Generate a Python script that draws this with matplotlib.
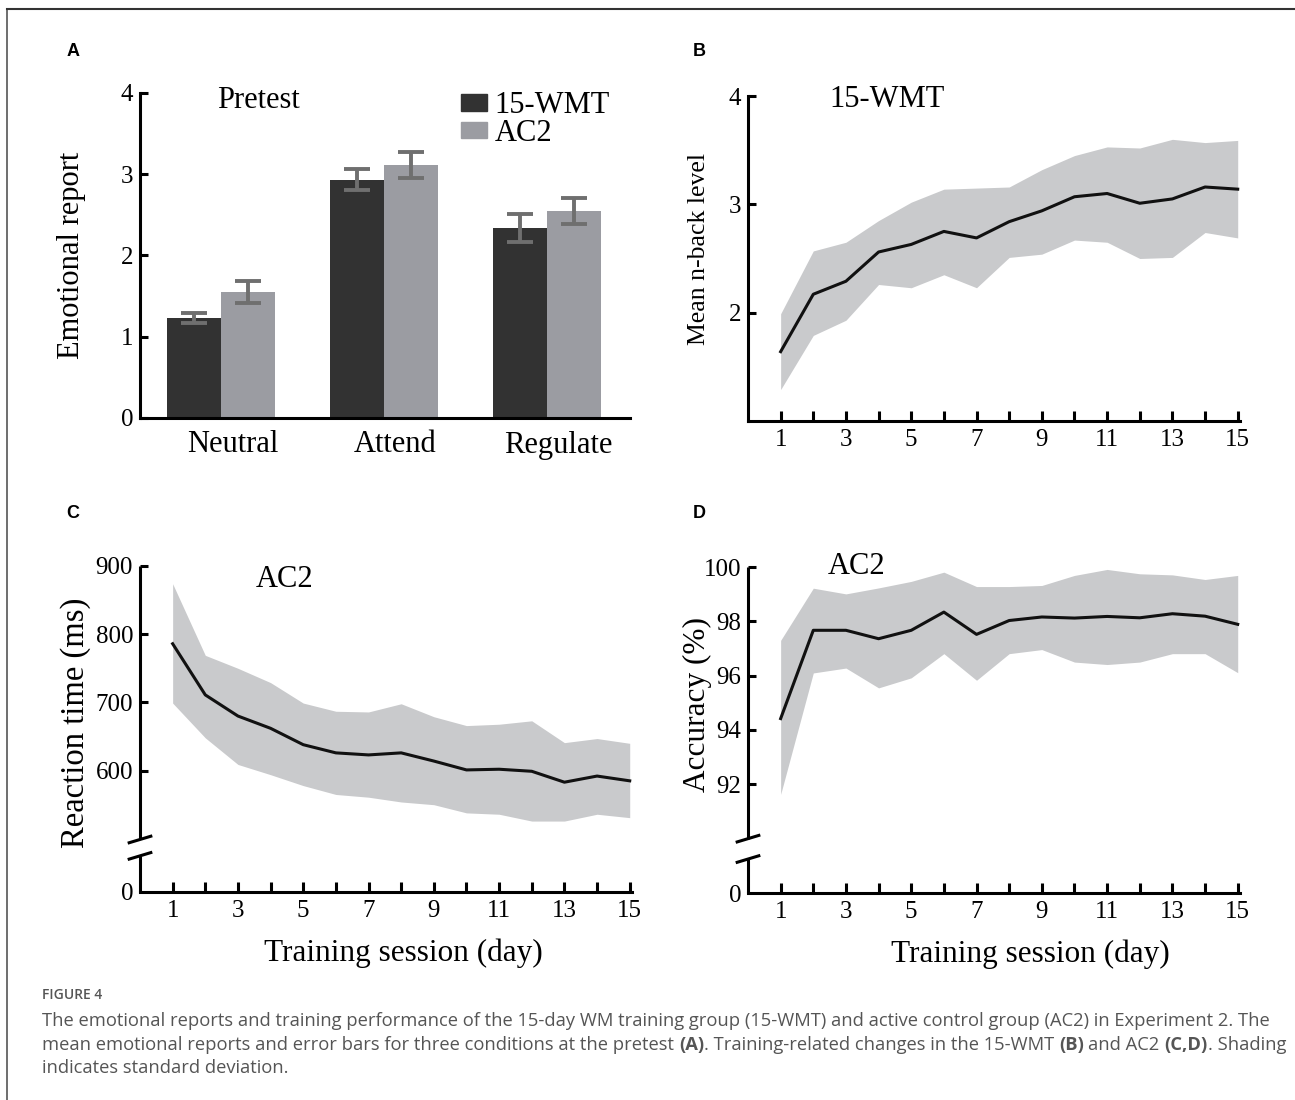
import matplotlib
matplotlib.use("Agg")
import matplotlib.pyplot as plt
from matplotlib.patches import Patch

# ---- data ----
conditions = ["Neutral", "Attend", "Regulate"]
wmt_pre = [1.23, 2.93, 2.34]
wmt_pre_err = [0.06, 0.13, 0.17]
ac2_pre = [1.55, 3.11, 2.55]
ac2_pre_err = [0.13, 0.16, 0.16]

sessions = list(range(1, 16))
session_labels = [str(s) if s % 2 == 1 else "" for s in sessions]

nback_mean = [1.64, 2.17, 2.29, 2.56, 2.63, 2.75, 2.69, 2.84, 2.94, 3.07, 3.10, 3.01, 3.05, 3.16, 3.14]
nback_upper = [1.99, 2.57, 2.65, 2.85, 3.02, 3.14, 3.15, 3.16, 3.32, 3.45, 3.53, 3.52, 3.60, 3.57, 3.59]
nback_lower = [1.29, 1.79, 1.93, 2.26, 2.23, 2.35, 2.23, 2.51, 2.54, 2.67, 2.65, 2.50, 2.51, 2.74, 2.69]

rt_mean = [786, 711, 680, 662, 638, 626, 623, 626, 614, 601, 602, 599, 583, 592, 585]
rt_upper = [874, 769, 750, 729, 699, 687, 686, 698, 679, 666, 668, 673, 641, 647, 640]
rt_lower = [699, 648, 609, 594, 578, 565, 561, 554, 550, 538, 536, 526, 526, 536, 531]

acc_mean = [94.42, 97.67, 97.67, 97.36, 97.67, 98.34, 97.52, 98.03, 98.16, 98.12, 98.18, 98.13, 98.28, 98.19, 97.89]
acc_upper = [97.30, 99.22, 99.01, 99.23, 99.47, 99.81, 99.28, 99.28, 99.32, 99.69, 99.91, 99.75, 99.71, 99.54, 99.69]
acc_lower = [91.63, 96.10, 96.28, 95.55, 95.92, 96.81, 95.83, 96.81, 96.96, 96.50, 96.41, 96.50, 96.81, 96.81, 96.11]

# ---- style ----
DARK = "#323232"
LIGHT = "#9b9ca2"
ERR = "#6f6f6f"
SHADE = "#c9cacc"
LW = 2.2
W, H = 1295, 1100

plt.rcParams["font.family"] = ["Liberation Serif", "DejaVu Serif"]
plt.rcParams["axes.linewidth"] = LW
plt.rcParams["xtick.major.width"] = LW
plt.rcParams["ytick.major.width"] = LW
plt.rcParams["xtick.labelsize"] = 18
plt.rcParams["ytick.labelsize"] = 18

fig = plt.figure(figsize=(W / 100, H / 100), dpi=100)


def px_axes(left, top, right, bottom):
    return fig.add_axes([left / W, 1 - bottom / H, (right - left) / W, (bottom - top) / H])


def clean(ax):
    ax.spines["top"].set_visible(False)
    ax.spines["right"].set_visible(False)


def session_axis(ax):
    ax.set_xlim(0, 15.07)
    ax.set_xticks(sessions)
    ax.set_xticklabels(session_labels)
    ax.tick_params(axis="x", direction="in", length=7, pad=6)
    ax.tick_params(axis="y", direction="in", length=6, pad=5)


def broken_spine(ax, lo, hi):
    y0, y1 = ax.get_ylim()
    ax.spines["left"].set_visible(False)
    tr = ax.get_yaxis_transform()
    ax.plot([0, 0], [y0, lo], transform=tr, color="k", lw=LW, clip_on=False, solid_capstyle="butt")
    ax.plot([0, 0], [hi, y1], transform=tr, color="k", lw=LW, clip_on=False, solid_capstyle="butt")
    for v in (lo, hi):
        f = (v - y0) / (y1 - y0)
        ax.plot([-0.022, 0.022], [f - 0.01, f + 0.01], transform=ax.transAxes,
                color="k", lw=LW, clip_on=False)


# ---- panel A ----
axA = px_axes(140, 93, 630, 418)
clean(axA)
pos = list(range(len(conditions)))
bw = 0.33
axA.bar([p - bw / 2 for p in pos], wmt_pre, bw, color=DARK, label="15-WMT")
axA.bar([p + bw / 2 for p in pos], ac2_pre, bw, color=LIGHT, label="AC2")
axA.errorbar([p - bw / 2 for p in pos], wmt_pre, yerr=wmt_pre_err, fmt="none",
             ecolor=ERR, elinewidth=2.8, capsize=9.5, capthick=2.8)
axA.errorbar([p + bw / 2 for p in pos], ac2_pre, yerr=ac2_pre_err, fmt="none",
             ecolor=ERR, elinewidth=2.8, capsize=9.5, capthick=2.8)
axA.set_xlim(-0.497, 2.509)
axA.set_ylim(0, 4)
axA.set_yticks([0, 1, 2, 3, 4])
# category labels sit slightly right of the bar-pair centres in the original
axA.set_xticks([p + 0.07 for p in pos])
axA.set_xticklabels(conditions, fontsize=22)
axA.tick_params(axis="x", length=0, pad=9)
axA.tick_params(axis="y", direction="in", length=6, pad=5)
axA.set_ylabel("Emotional report", fontsize=22)
axA.yaxis.set_label_coords(-0.11, 0.5)
axA.text(0.241, 0.978, "Pretest", transform=axA.transAxes, fontsize=22, ha="center", va="center")
axA.legend(handles=[Patch(color=DARK), Patch(color=LIGHT)], labels=["15-WMT", "AC2"],
           loc="upper left", bbox_to_anchor=(0.655, 1.005), fontsize=22, frameon=False,
           handlelength=0.85, handleheight=0.45, handletextpad=0.25, labelspacing=-0.05,
           borderpad=0, borderaxespad=0)

# ---- panel B ----
axB = px_axes(748, 96, 1240, 421)
clean(axB)
axB.fill_between(sessions, nback_lower, nback_upper, color=SHADE, lw=0)
axB.plot(sessions, nback_mean, color="#111111", lw=2.2)
session_axis(axB)
axB.set_ylim(1, 4)
axB.set_yticks([2, 3, 4])
axB.set_ylabel("Mean n-back level", fontsize=18.5)
axB.yaxis.set_label_coords(-0.077, 0.53)
axB.text(0.283, 0.988, "15-WMT", transform=axB.transAxes, fontsize=22, ha="center", va="center")

# ---- panel C ----
axC = px_axes(140, 566, 632, 892)
clean(axC)
axC.fill_between(sessions, rt_lower, rt_upper, color=SHADE, lw=0)
axC.plot(sessions, rt_mean, color="#111111", lw=2.2)
session_axis(axC)
axC.set_ylim(422, 900)
axC.set_yticks([422, 600, 700, 800, 900])
axC.set_yticklabels(["0", "600", "700", "800", "900"])
axC.yaxis.get_major_ticks()[0].tick1line.set_visible(False)
broken_spine(axC, 475, 499)
axC.set_ylabel("Reaction time (ms)", fontsize=23.5)
axC.yaxis.set_label_coords(-0.10, 0.52)
axC.set_xlabel("Training session (day)", fontsize=22.5)
axC.xaxis.set_label_coords(0.535, -0.143)
axC.text(0.293, 0.96, "AC2", transform=axC.transAxes, fontsize=22, ha="center", va="center")

# ---- panel D ----
axD = px_axes(748, 567, 1240, 893)
clean(axD)
axD.fill_between(sessions, acc_lower, acc_upper, color=SHADE, lw=0)
axD.plot(sessions, acc_mean, color="#111111", lw=2.2)
session_axis(axD)
axD.set_ylim(88, 100)
axD.set_yticks([88, 92, 94, 96, 98, 100])
axD.set_yticklabels(["0", "92", "94", "96", "98", "100"])
axD.yaxis.get_major_ticks()[0].tick1line.set_visible(False)
broken_spine(axD, 89.25, 90.0)
axD.set_ylabel("Accuracy (%)", fontsize=22.5)
axD.yaxis.set_label_coords(-0.073, 0.577)
axD.set_xlabel("Training session (day)", fontsize=22.5)
axD.xaxis.set_label_coords(0.573, -0.143)
axD.text(0.22, 1.0, "AC2", transform=axD.transAxes, fontsize=22, ha="center", va="center")

# ---- panel letters ----
for letter, x, y in [("A", 73, 52), ("B", 699, 52), ("C", 73, 514), ("D", 699, 514)]:
    fig.text(x / W, 1 - y / H, letter, fontsize=13, fontweight="bold",
             family=["Liberation Sans", "DejaVu Sans"], ha="center", va="center")

# ---- frame ----
fig.add_artist(plt.Line2D([7 / W, 7 / W], [0, 1 - 9 / H], color="#555555", lw=1.2))
fig.add_artist(plt.Line2D([7 / W, 1], [1 - 9 / H, 1 - 9 / H], color="#333333", lw=1.5))

# ---- caption ----
CAP_FONT = ["Open Sans", "DejaVu Sans"]
CAP_COLOR = "#555555"
fig.canvas.draw()
renderer = fig.canvas.get_renderer()

line1 = ("The emotional reports and training performance of the 15-day WM training group "
         "(15-WMT) and active control group (AC2) in Experiment 2. The")
probe = fig.text(0, 0, line1, fontsize=12, family=CAP_FONT)
cap_size = 12 * (1219 / probe.get_window_extent(renderer).width)
probe.remove()

sp = fig.text(0, 0, "a a", fontsize=cap_size, family=CAP_FONT)
sp2 = fig.text(0, 0, "aa", fontsize=cap_size, family=CAP_FONT)
space_w = sp.get_window_extent(renderer).width - sp2.get_window_extent(renderer).width
sp.remove()
sp2.remove()


def caption_line(y, runs):
    x = 42
    for text, weight, gap in runs:
        t = fig.text(x / W, 1 - y / H, text, fontsize=cap_size, fontweight=weight,
                     family=CAP_FONT, color=CAP_COLOR, ha="left", va="center")
        x += t.get_window_extent(renderer).width + (space_w if gap else 0)


fig.text(42 / W, 1 - 995 / H, "FIGURE 4", fontsize=10, fontweight="semibold",
         family=CAP_FONT, color="#555555", ha="left", va="center")
caption_line(1021, [(line1, "normal", False)])
caption_line(1045, [
    ("mean emotional reports and error bars for three conditions at the pretest", "normal", True),
    ("(A)", "bold", False),
    (". Training-related changes in the 15-WMT", "normal", True),
    ("(B)", "bold", True),
    ("and AC2", "normal", True),
    ("(C,D)", "bold", False),
    (". Shading", "normal", False),
])
caption_line(1068, [("indicates standard deviation.", "normal", False)])

fig.savefig("out.png", dpi=100)
